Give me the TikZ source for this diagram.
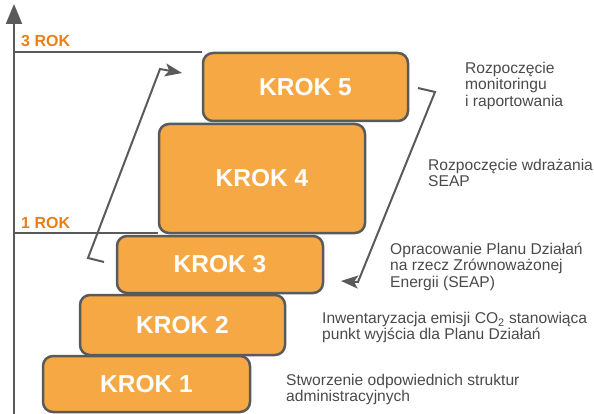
\documentclass[tikz,border=0pt]{standalone}
\usepackage{fontspec}
\setmainfont{Liberation Sans}
\usetikzlibrary{arrows.meta}
\definecolor{krokfill}{HTML}{F5A843}
\definecolor{krokline}{HTML}{5A5A5A}
\definecolor{rokorange}{HTML}{E8801A}
\definecolor{opistext}{HTML}{4A4A4A}

\begin{document}
\begin{tikzpicture}[x=1pt,y=-1pt]
\tikzstyle{every node}+=[inner sep=0pt]
\tikzstyle{krok}=[draw=krokline, line width=2.5pt, fill=krokfill, rounded corners=10pt, text=white, font=\fontsize{24.5}{24.5}\selectfont\bfseries]
\tikzstyle{rok}=[anchor=base west, text=rokorange, font=\fontsize{16}{16}\selectfont\bfseries]
\tikzstyle{opis}=[anchor=north west, align=left, text=opistext, font=\fontsize{15.6}{16.3}\selectfont]
\tikzstyle{linia}=[draw=krokline, line width=2pt]
\tikzstyle{strzalka}=[draw=krokline, line width=2pt, -{Stealth[length=17pt,width=13pt,inset=4pt]}]
\useasboundingbox (0,0) rectangle (594,414);
% kroki
\node[krok, minimum width=205pt, minimum height=68pt] (k5) at (305.5,87) {KROK 5};
\node[krok, minimum width=206pt, minimum height=109pt] (k4) at (262,178.5) {KROK 4};
\node[krok, minimum width=206pt, minimum height=57pt] (k3) at (220,264.5) {KROK 3};
\node[krok, minimum width=205pt, minimum height=60pt] (k2) at (182.5,325) {KROK 2};
\node[krok, minimum width=207pt, minimum height=56pt] (k1) at (146.5,384) {KROK 1};
% os czasu
\coordinate (osdol) at (14,414);
\coordinate (osgora) at (14,4);
\draw[linia, -{Triangle[length=20pt,width=16pt]}] (osdol) -- (osgora);
\coordinate (os3) at (14,52);
\coordinate (os1) at (14,233);
\draw[linia] (os3) -- (os3 -| k5.west);
\draw[linia] (os1) -- (os1 -| k4.west);
\node[rok] (rok3) at (21,46.7) {3 ROK};
\node[rok] (rok1) at (21,229) {1 ROK};
% strzalki
\coordinate (lstart) at (104,262);
\coordinate (lhak) at (88,258);
\coordinate (lgora) at (160,69);
\coordinate (lkoniec) at (182,73);
\draw[strzalka] (lstart) -- (lhak) -- (lgora) -- (lkoniec);
\coordinate (pstart) at (418,88);
\coordinate (phak) at (435,92);
\coordinate (pdol) at (358,282);
\coordinate (pkoniec) at (341,281);
\draw[strzalka] (pstart) -- (phak) -- (pdol) -- (pkoniec);
% opisy
\node[opis] (o5) at (465,62) {Rozpoczęcie\\monitoringu\\i raportowania};
\node[opis] (o4) at (428,159) {Rozpoczęcie wdrażania\\SEAP};
\node[opis] (o3) at (390,243) {Opracowanie Planu Działań\\na rzecz Zrównoważonej\\Energii (SEAP)};
\node[opis] (o2) at (322,312) {Inwentaryzacja emisji CO\textsubscript{2} stanowiąca\\punkt wyjścia dla Planu Działań};
\node[opis] (o1) at (286,374) {Stworzenie odpowiednich struktur\\administracyjnych};
\end{tikzpicture}
\end{document}
